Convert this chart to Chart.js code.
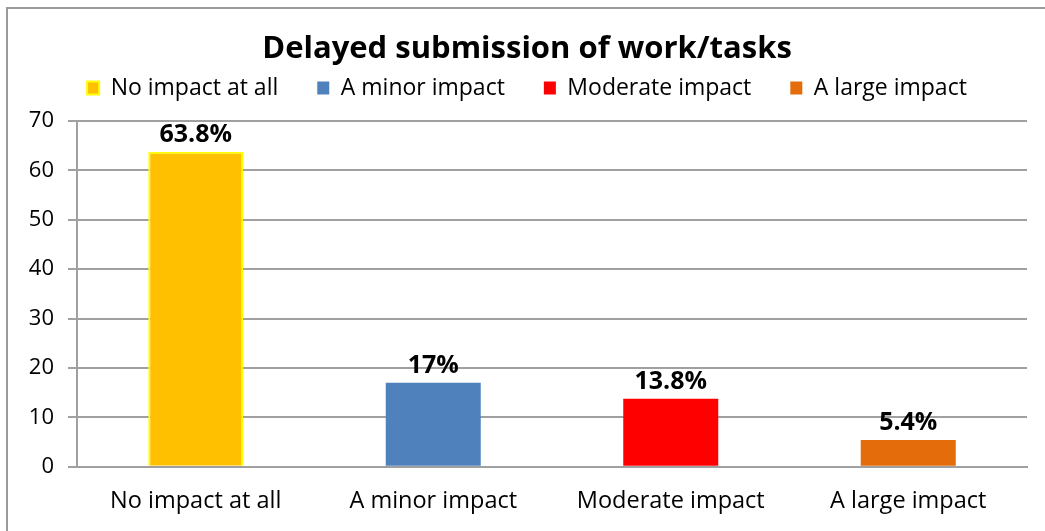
<!DOCTYPE html>
<html>
<head>
<meta charset="utf-8">
<script src="https://cdn.jsdelivr.net/npm/chart.js@4/dist/chart.umd.min.js"></script>
<style>
  html, body { margin: 0; padding: 0; background: #fff; overflow: hidden; }
  #frame { position: absolute; left: 6px; top: 7px; width: 1100px; height: 600px;
           border-left: 2px solid #9a9a9a; border-top: 2px solid #9a9a9a; }
  #wrap { position: absolute; left: 0; top: 0; width: 1045px; height: 531px; }
</style>
</head>
<body>
<div id="frame"></div>
<div id="wrap"><canvas id="c"></canvas></div>
<script>
const categories = ['No impact at all', 'A minor impact', 'Moderate impact', 'A large impact'];
const percentages = [63.8, 17, 13.8, 5.4];
const barColors = ['#FFC000', '#4F81BD', '#FF0000', '#E46C0A'];
const barBorders = ['#FFFF00', '#4F81BD', '#FF0000', '#E46C0A'];
const yMax = 70;
const yStep = 10;

const FONT = '"Open Sans", "Liberation Sans", sans-serif';

// Value labels above each bar
const valueLabels = {
  id: 'valueLabels',
  afterDatasetsDraw(chart) {
    const ctx = chart.ctx;
    const meta = chart.getDatasetMeta(0);
    ctx.save();
    ctx.font = 'bold 25px ' + FONT;
    ctx.fillStyle = '#000';
    ctx.textAlign = 'center';
    ctx.textBaseline = 'middle';
    meta.data.forEach((bar, i) => {
      ctx.fillText(percentages[i] + '%', bar.x, bar.y - 17);
    });
    ctx.restore();
  }
};

new Chart(document.getElementById('c'), {
  type: 'bar',
  data: {
    labels: categories,
    datasets: [{
      label: 'Delayed submission of work/tasks',
      data: percentages,
      backgroundColor: barColors,
      borderColor: barBorders,
      borderWidth: [2, 0, 0, 0],
      categoryPercentage: 1,
      barPercentage: 0.4
    }]
  },
  options: {
    responsive: true,
    maintainAspectRatio: false,
    animation: false,
    layout: { padding: { left: 27, right: 18, top: 31, bottom: -4 } },
    plugins: {
      title: {
        display: true,
        text: 'Delayed submission of work/tasks',
        color: '#000',
        font: { family: FONT, size: 31, weight: 'bold', lineHeight: 1.2 },
        padding: { top: 0, bottom: -30.7 }
      },
      // blank spacer between the legend and the plot
      subtitle: {
        display: true,
        text: ' ',
        weight: 500,
        font: { size: 1, lineHeight: 1 },
        padding: { top: 0, bottom: 10.5 }
      },
      legend: {
        display: true,
        position: 'top',
        onClick: null,
        labels: {
          color: '#000',
          font: { family: FONT, size: 23 },
          boxWidth: 12,
          boxHeight: 13,
          padding: 39,
          generateLabels(chart) {
            return categories.map((name, i) => ({
              text: name,
              fillStyle: barColors[i],
              strokeStyle: barBorders[i],
              lineWidth: i === 0 ? 2 : 0,
              hidden: false,
              index: i
            }));
          }
        }
      },
      tooltip: { enabled: false }
    },
    scales: {
      x: {
        grid: { display: false, drawTicks: false },
        border: { display: true, color: '#a0a0a0', width: 2 },
        ticks: { color: '#000', font: { family: FONT, size: 23.5, lineHeight: 1.2 }, padding: 20 }
      },
      y: {
        min: 0,
        max: yMax,
        afterFit(scale) { scale.width = 50; },
        ticks: { stepSize: yStep, color: '#000', font: { family: FONT, size: 22 }, padding: 14 },
        grid: { color: '#a0a0a0', lineWidth: 2, tickLength: 9, drawTicks: true },
        border: { display: true, color: '#a0a0a0', width: 2 }
      }
    }
  },
  plugins: [valueLabels]
});
</script>
</body>
</html>
